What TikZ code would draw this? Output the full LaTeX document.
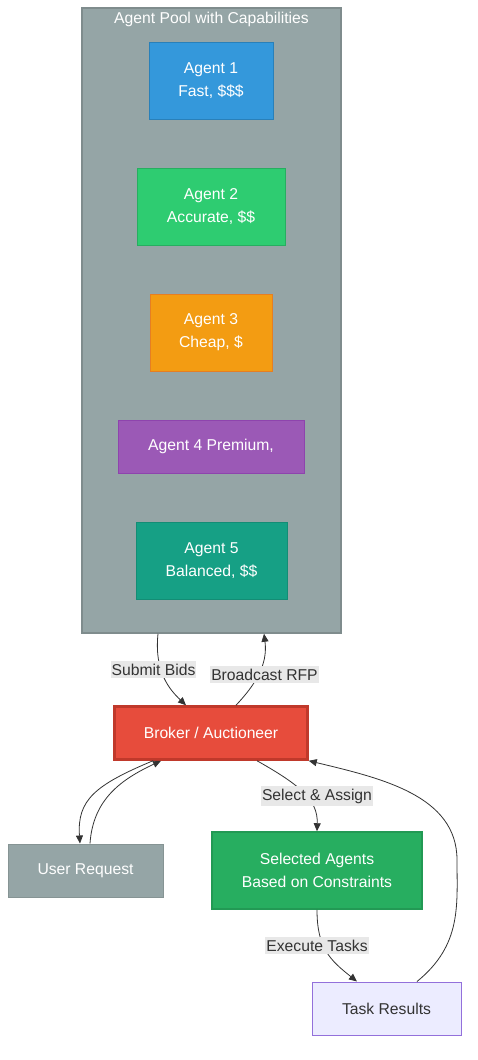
\documentclass[tikz,border=0pt]{standalone}
\usepackage{fontspec}
\setmainfont{Liberation Sans}
\usetikzlibrary{arrows.meta,calc}
\definecolor{poolfill}{HTML}{95A5A6}
\definecolor{poolline}{HTML}{7F8C8D}
\definecolor{aonefill}{HTML}{3498DB}\definecolor{aoneline}{HTML}{2980B9}
\definecolor{atwofill}{HTML}{2ECC71}\definecolor{atwoline}{HTML}{27AE60}
\definecolor{athreefill}{HTML}{F39C12}\definecolor{athreeline}{HTML}{E67E22}
\definecolor{afourfill}{HTML}{9B59B6}\definecolor{afourline}{HTML}{8E44AD}
\definecolor{afivefill}{HTML}{16A085}\definecolor{afiveline}{HTML}{138D75}
\definecolor{brokerfill}{HTML}{E74C3C}\definecolor{brokerline}{HTML}{C0392B}
\definecolor{selfill}{HTML}{27AE60}\definecolor{selline}{HTML}{229954}
\definecolor{resfill}{HTML}{ECECFF}\definecolor{resline}{HTML}{9370DB}
\definecolor{edgecol}{HTML}{333333}
\definecolor{lblfill}{HTML}{E8E8E8}
\tikzset{
  box/.style={draw, line width=1pt, inner sep=0pt, align=center, text=white,
    font=\fontsize{15.7}{23}\selectfont},
  edge/.style={draw=edgecol, line width=0.8pt, -{Triangle[length=8pt,width=7pt]}},
  lbl/.style={fill=lblfill, text=edgecol, inner xsep=1pt, inner ysep=3pt, font=\fontsize{15.7}{18}\selectfont},
}
\begin{document}
\begin{tikzpicture}[x=1pt,y=-1pt]
\useasboundingbox (0,0) rectangle (477,1060);
% cluster
\node[draw=poolline, fill=poolfill, line width=1.5pt, minimum width=259pt, minimum height=625pt, inner sep=0pt] (pool) at (211.5,320.5) {};
\node[text=white, font=\fontsize{15.7}{18}\selectfont] (pooltitle) at (211.5,19.5) {Agent Pool with Capabilities};
% agents
\node[box, draw=aoneline, fill=aonefill, minimum width=124pt, minimum height=77pt] (a1) at (211,80.5) {Agent 1\\Fast, \$\$\$};
\node[box, draw=atwoline, fill=atwofill, minimum width=148pt, minimum height=77pt] (a2) at (211,206.5) {Agent 2\\Accurate, \$\$};
\node[box, draw=athreeline, fill=athreefill, minimum width=122pt, minimum height=77pt] (a3) at (211,332.5) {Agent 3\\Cheap, \$};
\node[box, draw=afourline, fill=afourfill, minimum width=186pt, minimum height=53pt] (a4) at (211,446.5) {Agent 4 Premium,};
\node[box, draw=afiveline, fill=afivefill, minimum width=151pt, minimum height=77pt] (a5) at (211.5,560.5) {Agent 5\\Balanced, \$\$};
% main nodes
\node[box, draw=brokerline, fill=brokerfill, line width=2.5pt, minimum width=193pt, minimum height=53pt] (broker) at (211,733) {Broker / Auctioneer};
\node[box, draw=poolline!70!poolfill, fill=poolfill, minimum width=155pt, minimum height=53pt] (user) at (85.5,870.5) {User Request};
\node[box, draw=selline, fill=selfill, line width=1.5pt, minimum width=210pt, minimum height=77pt] (sel) at (317,870.5) {Selected Agents\\Based on Constraints};
\node[box, draw=resline, fill=resfill, text=edgecol, minimum width=149pt, minimum height=53pt] (res) at (386.5,1008.5) {Task Results};
% edges
\draw[edge] ([xshift=-53.5pt]pool.south) .. controls (154,672) and (170,690) .. ([xshift=-25pt]broker.north);
\draw[edge] ([xshift=25pt]broker.north) .. controls (255,685) and (268,665) .. ([xshift=52.5pt]pool.south);
\draw[edge] ([xshift=-58pt]broker.south) .. controls (95,785) and (77,800) .. ([xshift=-5.5pt]user.north);
\draw[edge] ([xshift=4.5pt]user.north) .. controls (93,800) and (120,780) .. ([xshift=-50pt]broker.south);
\draw[edge] ([xshift=46pt]broker.south) .. controls (300,785) and (318,800) .. (sel.north);
\draw[edge] (sel.south) .. controls (317,948) and (330,960) .. ([xshift=-29.5pt]res.north);
\draw[edge] ([xshift=30.5pt]res.north) .. controls (462,945) and (457,905) .. (457,860) .. controls (457,795) and (380,778) .. (broker.south east);
% labels
\node[lbl] (l1) at (153.5,669.5) {Submit Bids};
\node[lbl] (l2) at (264.5,674.5) {Broadcast RFP};
\node[lbl] (l3) at (317,796) {Select \& Assign};
\node[lbl] (l4) at (317,945.5) {Execute Tasks};
\end{tikzpicture}
\end{document}
